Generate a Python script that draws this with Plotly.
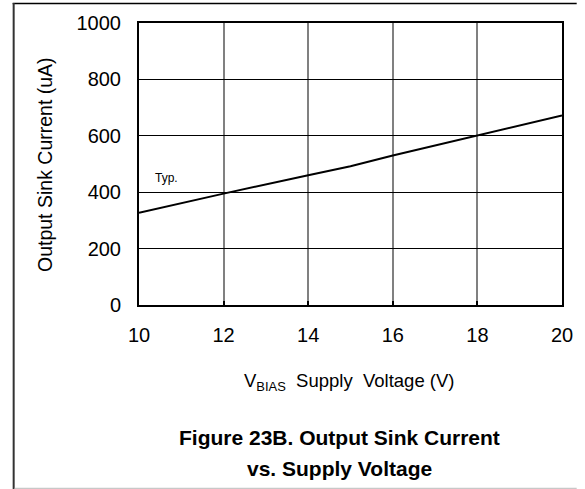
import plotly.graph_objects as go

# Output sink current vs. V_BIAS supply voltage (typical)
supply_voltage = [10, 12, 14, 15, 16, 18, 20]
sink_current_ua = [327, 395, 460, 492, 530, 600, 672]

x_ticks = [10, 12, 14, 16, 18, 20]
y_ticks = [0, 200, 400, 600, 800, 1000]

FONT = "Liberation Sans, Arial, sans-serif"

fig = go.Figure()
fig.add_trace(go.Scatter(
    x=supply_voltage, y=sink_current_ua, mode="lines",
    line=dict(color="black", width=2), showlegend=False, hoverinfo="skip",
))

fig.update_layout(
    width=585, height=489,
    margin=dict(l=139, r=14, t=23, b=184),
    paper_bgcolor="white", plot_bgcolor="white",
    font=dict(family=FONT, color="black"),
)

fig.update_xaxes(
    range=[10, 20], tickvals=x_ticks, ticktext=[str(v) for v in x_ticks],
    showgrid=True, gridcolor="#808080", gridwidth=1.5,
    showline=True, linecolor="black", linewidth=2, mirror=True,
    ticks="inside", ticklen=4, tickcolor="black", tickwidth=2,
    tickfont=dict(size=20, family=FONT), ticklabelstandoff=11,
    zeroline=False, fixedrange=True,
)
fig.update_yaxes(
    range=[0, 1000], tickvals=y_ticks, ticktext=[str(v) for v in y_ticks],
    showgrid=True, gridcolor="black", gridwidth=1,
    showline=True, linecolor="black", linewidth=2, mirror=True,
    ticks="", tickfont=dict(size=20, family=FONT), ticklabelstandoff=12,
    zeroline=False, fixedrange=True,
)

# plot area spans 432 px wide and 282 px tall in paper units
def px_x(p):
    return (p - 139) / 432.0

def px_y(p):
    return (305 - p) / 282.0

annotations = [
    dict(text="Typ.", x=10.33, y=452, xref="x", yref="y", showarrow=False,
         xanchor="left", yanchor="middle", font=dict(size=12, family=FONT)),
    dict(text="Output Sink Current (uA)", textangle=-90,
         x=px_x(43), y=px_y(165), xref="paper", yref="paper", showarrow=False,
         xanchor="center", yanchor="middle", font=dict(size=19.5, family=FONT)),
    dict(text="V<sub>BIAS</sub>  Supply  Voltage (V)",
         x=px_x(353), y=px_y(382), xref="paper", yref="paper", showarrow=False,
         xanchor="center", yanchor="middle", font=dict(size=18.5, family=FONT)),
    dict(text="<b>Figure 23B. Output Sink Current</b>",
         x=px_x(344), y=px_y(437), xref="paper", yref="paper", showarrow=False,
         xanchor="center", yanchor="middle", font=dict(size=21, family=FONT)),
    dict(text="<b>vs. Supply Voltage</b>",
         x=px_x(344), y=px_y(468), xref="paper", yref="paper", showarrow=False,
         xanchor="center", yanchor="middle", font=dict(size=21, family=FONT)),
]
fig.update_layout(annotations=annotations)

# outer frame: top and left rules, light bottom rule
shapes = [
    dict(type="line", xref="paper", yref="paper",
         x0=px_x(10), x1=px_x(586), y0=px_y(3.5), y1=px_y(3.5),
         line=dict(color="black", width=1.5)),
    dict(type="line", xref="paper", yref="paper",
         x0=px_x(11), x1=px_x(11), y0=px_y(3), y1=px_y(490),
         line=dict(color="#333333", width=2)),
    dict(type="line", xref="paper", yref="paper",
         x0=px_x(12), x1=px_x(586), y0=px_y(488.5), y1=px_y(488.5),
         line=dict(color="#c8c8c8", width=1.5)),
]
fig.update_layout(shapes=shapes)

fig.write_html("out.html")
